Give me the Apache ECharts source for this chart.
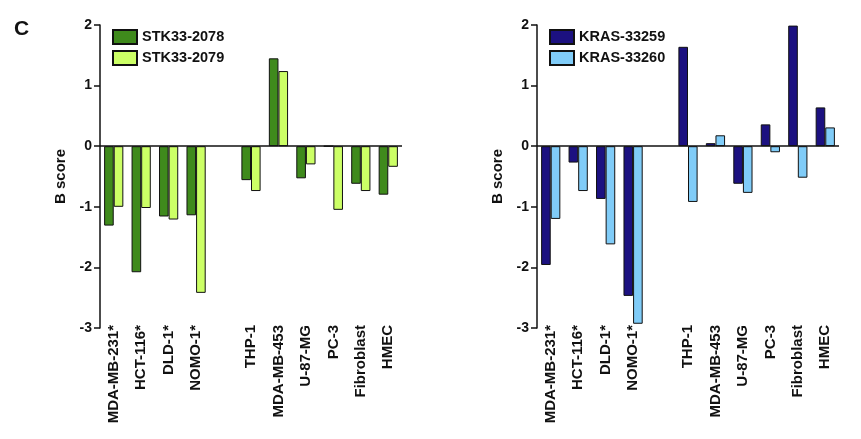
<!DOCTYPE html>
<html><head><meta charset="utf-8">
<script src="https://cdn.jsdelivr.net/npm/echarts@6/dist/echarts.min.js"></script>
<style>html,body{margin:0;padding:0;background:#fff}#c{width:861px;height:439px}</style>
</head><body><div id="c"></div>
<script>
var categories = ['MDA-MB-231*','HCT-116*','DLD-1*','NOMO-1*','','THP-1','MDA-MB-453','U-87-MG','PC-3','Fibroblast','HMEC'];
var stk2078 = [-1.31,-2.08,-1.16,-1.14,null,-0.56,1.45,-0.53,0,-0.62,-0.80];
var stk2079 = [-1.00,-1.02,-1.21,-2.42,null,-0.74,1.24,-0.30,-1.05,-0.74,-0.34];
var kras33259 = [-1.96,-0.27,-0.87,-2.47,null,1.64,0.05,-0.62,0.36,1.99,0.64];
var kras33260 = [-1.20,-0.74,-1.62,-2.93,null,-0.92,0.18,-0.77,-0.10,-0.52,0.31];
var yTicks = [-3,-2,-1,0,1,2];

var FONT = 'Liberation Sans, Arial, sans-serif';
var grids = [
  {left:100, top:25, width:302, height:303},
  {left:537, top:25, width:302, height:303}
];
function xAx(i){
  return {type:'category', gridIndex:i, data:categories,
    axisLine:{show:false}, axisTick:{show:false},
    axisLabel:{rotate:90, interval:0, fontFamily:FONT, fontWeight:'bold', fontSize:15, color:'#111', margin:-3}};
}
function yAx(i){
  return {type:'value', gridIndex:i, min:-3, max:2, interval:1,
    name:'B score', nameLocation:'middle', nameGap:32, nameRotate:90,
    nameTextStyle:{fontFamily:FONT, fontWeight:'bold', fontSize:15, color:'#111'},
    splitLine:{show:false},
    axisLine:{show:true, onZero:false, lineStyle:{color:'#111', width:1.5}},
    axisTick:{show:true, length:6, lineStyle:{color:'#111', width:1.5}},
    axisLabel:{fontFamily:FONT, fontWeight:'bold', fontSize:14, color:'#111', margin:8,
      formatter:function(v){return yTicks.indexOf(v)>=0? String(v):'';}}};
}
function bar(name, data, color, i, zero){
  var s = {name:name, type:'bar', xAxisIndex:i, yAxisIndex:i, data:data,
    barGap:'0%', barCategoryGap:'30%',
    itemStyle:{color:color, borderColor:'#111', borderWidth:1}};
  if(zero){
    s.markLine = {silent:true, symbol:'none', label:{show:false},
      lineStyle:{color:'#111', width:1.5, type:'solid'}, data:[{yAxis:0}]};
  }
  return s;
}
var chart = echarts.init(document.getElementById('c'), null, {renderer:'canvas'});
chart.setOption({
  animation:false,
  backgroundColor:'#fff',
  title:{text:'C', left:9, top:14, textStyle:{fontFamily:FONT, fontWeight:'bold', fontSize:21, color:'#111'}},
  legend:[
    {data:['STK33-2078','STK33-2079'], orient:'vertical', left:107, top:24, itemWidth:24, itemHeight:14, itemGap:5,
     icon:'rect', textStyle:{fontFamily:FONT, fontWeight:'bold', fontSize:14.5, color:'#111'}},
    {data:['KRAS-33259','KRAS-33260'], orient:'vertical', left:544, top:24, itemWidth:24, itemHeight:14, itemGap:5,
     icon:'rect', textStyle:{fontFamily:FONT, fontWeight:'bold', fontSize:14.5, color:'#111'}}
  ],
  grid:grids,
  xAxis:[xAx(0), xAx(1)],
  yAxis:[yAx(0), yAx(1)],
  series:[
    bar('STK33-2078', stk2078, '#3f8a1c', 0, true),
    bar('STK33-2079', stk2079, '#ccff66', 0, false),
    bar('KRAS-33259', kras33259, '#1c1180', 1, true),
    bar('KRAS-33260', kras33260, '#80ccf8', 1, false)
  ]
});
</script></body></html>
